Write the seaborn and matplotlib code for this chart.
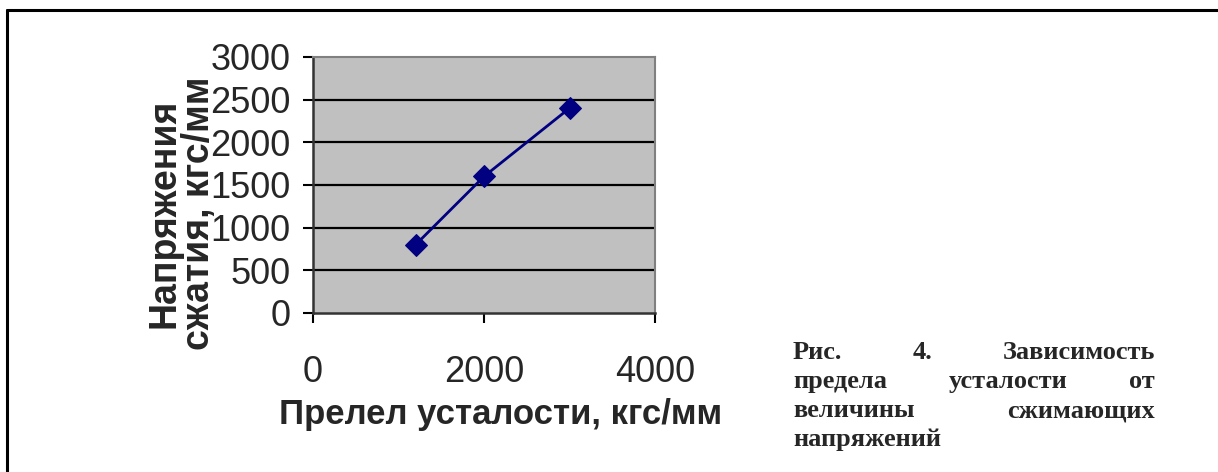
import matplotlib
matplotlib.use('Agg')
import matplotlib.pyplot as plt
from matplotlib.lines import Line2D
import seaborn as sns
import pandas as pd

# data
fatigue_limit = [1200, 2000, 3000]      # x, кгс/мм
compress_stress = [800, 1600, 2400]     # y, кгс/мм
x_ticks = [0, 2000, 4000]
y_ticks = [0, 500, 1000, 1500, 2000, 2500, 3000]

x_label = 'Прелел усталости, кгс/мм'
y_label = 'Напряжения\nсжатия, кгс/мм'
caption_lines = [
    ['Рис.', '4.', 'Зависимость'],
    ['предела', 'усталости', 'от'],
    ['величины', 'сжимающих'],
    ['напряжений'],
]

df = pd.DataFrame({'x': fatigue_limit, 'y': compress_stress})

sns.set_style('white')
plt.rcParams['font.family'] = ['Liberation Sans', 'DejaVu Sans']

W, H = 1218, 472
fig = plt.figure(figsize=(W / 100, H / 100), dpi=100)
ax = fig.add_axes([313 / W, 1 - 313 / H, (655 - 313) / W, (313 - 57) / H])

sns.lineplot(data=df, x='x', y='y', ax=ax, color='#000080', lw=2,
             marker='D', markersize=11, markeredgecolor='#000080', zorder=3)

ax.set_facecolor('#c0c0c0')
ax.set_xlim(0, 4000)
ax.set_ylim(0, 3000)
ax.set_xticks(x_ticks)
ax.set_yticks(y_ticks)
for v in y_ticks[1:-1]:
    ax.axhline(v, color='black', lw=1.6, zorder=1)

for side in ['top', 'right']:
    ax.spines[side].set_color('#808080')
    ax.spines[side].set_linewidth(1.5)
for side in ['left', 'bottom']:
    ax.spines[side].set_color('#333333')
    ax.spines[side].set_linewidth(1.8)

ax.tick_params(axis='y', direction='out', length=7, width=1.5, color='black',
               labelsize=26, pad=9, left=True)
ax.tick_params(axis='x', direction='out', length=7, width=1.5, color='black',
               labelsize=26, pad=23, bottom=True)
ax.set_xlabel(x_label, fontsize=25, fontweight='bold')
ax.xaxis.set_label_coords((501 - 313) / 342, -(398 - 313) / 256)
ax.set_ylabel('')

fig.text(182 / W, 1 - 213 / H, y_label, rotation=90, ha='center', va='center',
         fontsize=27, fontweight='bold', linespacing=0.95, multialignment='center')

# page frame (right and bottom edges fall outside the crop)
fig.add_artist(Line2D([7 / W, 1], [1 - 10 / H, 1 - 10 / H], color='black', lw=2.2))
fig.add_artist(Line2D([7 / W, 7 / W], [1 - 10 / H, 0], color='black', lw=2.2))

# justified bold caption
cap_left, cap_right = 793, 1155
baselines = [359, 388, 417, 446]
renderer = fig.canvas.get_renderer()
cap_font = dict(family=['Liberation Serif', 'DejaVu Serif'], fontsize=19,
                fontweight='bold', va='baseline', ha='left')
for i, (words, base) in enumerate(zip(caption_lines, baselines)):
    texts = [fig.text(0, 1 - base / H, w, **cap_font) for w in words]
    widths = [t.get_window_extent(renderer).width for t in texts]
    last = i == len(caption_lines) - 1
    gap = 0 if (last or len(words) == 1) else (cap_right - cap_left - sum(widths)) / (len(words) - 1)
    xpos = cap_left
    for t, w in zip(texts, widths):
        t.set_x(xpos / W)
        xpos += w + (gap if gap else 8)

fig.savefig('out.png', dpi=100)
